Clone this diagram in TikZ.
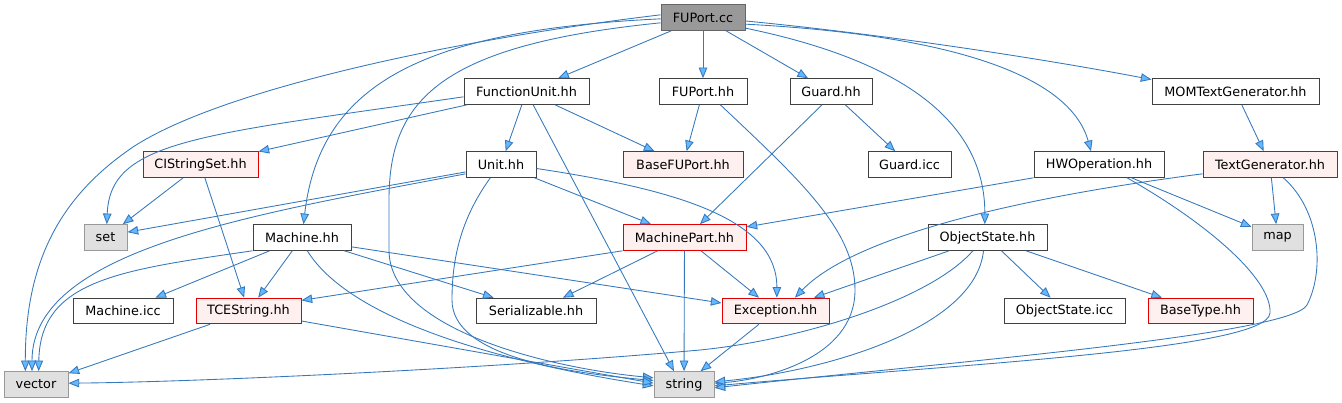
\documentclass[tikz,border=0pt]{standalone}
\usepackage{fontspec}
\setmainfont{DejaVu Sans}
\usetikzlibrary{arrows.meta}
\definecolor{wnd}{HTML}{404040}
\definecolor{wnf}{HTML}{FFFFFF}
\definecolor{rnd}{HTML}{E00000}
\definecolor{rnf}{HTML}{FFF0F0}
\definecolor{gnd}{HTML}{999999}
\definecolor{gnf}{HTML}{E0E0E0}
\definecolor{cnd}{HTML}{666666}
\definecolor{cnf}{HTML}{999999}
\definecolor{edgec}{HTML}{3578BC}
\definecolor{arrowc}{HTML}{63B8FF}
\begin{document}
\begin{tikzpicture}[x=0.75pt,y=-0.75pt,
  base/.style={rectangle, minimum height=19.2pt, inner sep=1pt, line width=0.75pt,
    font=\fontsize{9.6}{11}\selectfont, text=black},
  wn/.style={base, draw=wnd, fill=wnf},
  rn/.style={base, draw=rnd, fill=rnf},
  gn/.style={base, draw=gnd, fill=gnf},
  cn/.style={base, draw=cnd, fill=cnf},
  e/.style={draw=edgec, line width=0.65pt, -{Triangle[length=8pt,width=6.4pt,fill=arrowc]}}]
\useasboundingbox (0,0) rectangle (1342,403);
% nodes
\node[cn, minimum width=63pt]     (fupcc)   at (703,17.5)   {FUPort.cc};
\node[wn, minimum width=93.75pt]  (fu)      at (526.5,91.5) {FunctionUnit.hh};
\node[wn, minimum width=66pt]     (fuph)    at (703,91.5)   {FUPort.hh};
\node[wn, minimum width=61.5pt]   (guard)   at (831,91.5)   {Guard.hh};
\node[wn, minimum width=125.25pt] (mom)     at (1235.5,91.5){MOMTextGenerator.hh};
\node[rn, minimum width=86.25pt]  (cis)     at (200.5,164.5){CIStringSet.hh};
\node[wn, minimum width=52.5pt]   (unit)    at (501,164.5)  {Unit.hh};
\node[rn, minimum width=90pt]     (bfp)     at (683,164.5)  {BaseFUPort.hh};
\node[wn, minimum width=62.25pt]  (gicc)    at (909.5,164.5){Guard.icc};
\node[wn, minimum width=97.5pt]   (hwop)    at (1099,164.5) {HWOperation.hh};
\node[rn, minimum width=100.5pt]  (tg)      at (1270,164.5) {TextGenerator.hh};
\node[gn, minimum width=32.25pt]  (set)     at (105.5,237.5){set};
\node[wn, minimum width=73.5pt]   (machine) at (302,237.5)  {Machine.hh};
\node[rn, minimum width=92.25pt]  (mp)      at (684.5,237.5){MachinePart.hh};
\node[wn, minimum width=89.25pt]  (objs)    at (987.5,237.5){ObjectState.hh};
\node[gn, minimum width=38.25pt]  (map)     at (1277.5,237.5){map};
\node[wn, minimum width=75pt]     (micc)    at (123,311)    {Machine.icc};
\node[rn, minimum width=78.75pt]  (tces)    at (248.5,311)  {TCEString.hh};
\node[wn, minimum width=90pt]     (serial)  at (536,311)    {Serializable.hh};
\node[rn, minimum width=80.25pt]  (exc)     at (775.5,311)  {Exception.hh};
\node[wn, minimum width=90.75pt]  (oicc)    at (1064.5,311) {ObjectState.icc};
\node[rn, minimum width=78.75pt]  (bt)      at (1200.5,311) {BaseType.hh};
\node[gn, minimum width=48pt]     (vector)  at (36,384.5)   {vector};
\node[gn, minimum width=45pt]     (string)  at (684,384.5)  {string};
% FUPort.cc
\draw[e] (fupcc) -- (fu);
\draw[e] (fupcc) -- (fuph);
\draw[e] (fupcc) -- (guard);
\draw[e] ([yshift=-2.6pt]fupcc.east) .. controls (900,36) and (1060,62) .. ([yshift=-1pt]mom.north west);
\draw[e] ([yshift=-5pt]fupcc.east) .. controls (950,35) and (1070,75) .. ([xshift=-6pt]hwop.north);
\draw[e] ([yshift=-8pt]fupcc.east) .. controls (900,60) and (985,120) .. ([xshift=-2pt]objs.north);
\draw[e] ([yshift=2pt]fupcc.west) .. controls (450,40) and (220,90) .. (133,147)
   .. controls (70,190) and (25,250) .. ([xshift=-8pt]vector.north);
\draw[e] ([yshift=-1pt]fupcc.west) .. controls (430,30) and (320,80) .. (machine);
\draw[e] ([yshift=-4pt]fupcc.west) .. controls (440,45) and (389,100) .. (389,200) -- (389,250)
   .. controls (389,330) and (550,368) .. ([yshift=5pt]string.west);
% FunctionUnit.hh
\draw[e] (fu) -- (unit);
\draw[e] (fu) -- (bfp);
\draw[e] (fu) -- (cis);
\draw[e] ([yshift=-4pt]fu.west) .. controls (200,135) and (110,140) .. ([xshift=1pt]set.north);
\draw[e] ([xshift=5pt]fu.south) -- ([xshift=-7.5pt]string.north);
% FUPort.hh
\draw[e] (fuph) -- (bfp);
\draw[e] ([xshift=13pt]fuph.south) .. controls (800,180) and (855,230) .. (855,290)
   .. controls (855,360) and (760,380) .. ([yshift=1pt]string.east);
% Guard.hh
\draw[e] ([xshift=-6.75pt]guard.south) -- ([xshift=11.6pt]mp.north);
\draw[e] (guard) -- (gicc);
% MOMTextGenerator.hh
\draw[e] (mom) -- (tg);
% CIStringSet.hh
\draw[e] (cis) -- (set);
\draw[e] (cis) -- (tces);
% Unit.hh
\draw[e] ([yshift=-5.6pt]unit.west) -- ([yshift=4pt]set.east);
\draw[e] ([yshift=-7pt]unit.west) .. controls (250,215) and (32,250) .. ([xshift=-3pt]vector.north);
\draw[e] ([xshift=-8pt]unit.south) .. controls (460,220) and (452,260) .. (452,300)
   .. controls (452,355) and (560,372) .. ([yshift=3pt]string.west);
\draw[e] (unit) -- (mp);
\draw[e] ([yshift=-3pt]unit.east) .. controls (680,190) and (777,220) .. ([xshift=1pt]exc.north);
% Machine.hh
\draw[e] (machine) -- (micc);
\draw[e] (machine) -- (tces);
\draw[e] (machine) -- (serial);
\draw[e] ([yshift=-7pt]machine.east) -- ([yshift=6pt]exc.west);
\draw[e] (machine.south west) .. controls (120,270) and (40,280) .. ([xshift=2pt]vector.north);
\draw[e] ([xshift=4pt]machine.south) .. controls (350,320) and (500,362) .. ([yshift=-1pt]string.west);
% MachinePart.hh
\draw[e] (mp.south west) -- ([yshift=-2pt]tces.north east);
\draw[e] (mp) -- (serial);
\draw[e] (mp) -- (exc);
\draw[e] (mp) -- (string);
% Exception.hh
\draw[e] (exc) -- (string);
% TCEString.hh
\draw[e] (tces) -- (vector);
\draw[e] ([yshift=-7.5pt]tces.east) -- ([yshift=1pt]string.west);
% HWOperation.hh
\draw[e] (hwop.south west) -- ([yshift=-2pt]mp.north east);
\draw[e] (hwop) -- (map);
\draw[e] ([xshift=21pt]hwop.south) .. controls (1210,225) and (1272,280) .. (1270,313)
   .. controls (1268,350) and (950,365) .. ([yshift=-1pt]string.east);
% TextGenerator.hh
\draw[e] (tg) -- (map);
\draw[e] ([xshift=10pt]tg.south) .. controls (1320,210) and (1325,270) .. (1307,305)
   .. controls (1290,335) and (950,362) .. ([yshift=-2.5pt]string.east);
\draw[e] ([yshift=-7pt]tg.west) .. controls (1000,200) and (850,240) .. ([xshift=14.6pt]exc.north);
% ObjectState.hh
\draw[e] (objs) -- (exc);
\draw[e] (objs) -- (oicc);
\draw[e] (objs) -- (bt);
\draw[e] ([xshift=-3pt]objs.south) .. controls (975,330) and (820,372) .. ([yshift=2pt]string.east);
\draw[e] ([xshift=-11pt]objs.south) .. controls (930,300) and (800,340) .. (700,350)
   .. controls (500,368) and (200,382) .. ([yshift=1pt]vector.east);
\end{tikzpicture}
\end{document}
